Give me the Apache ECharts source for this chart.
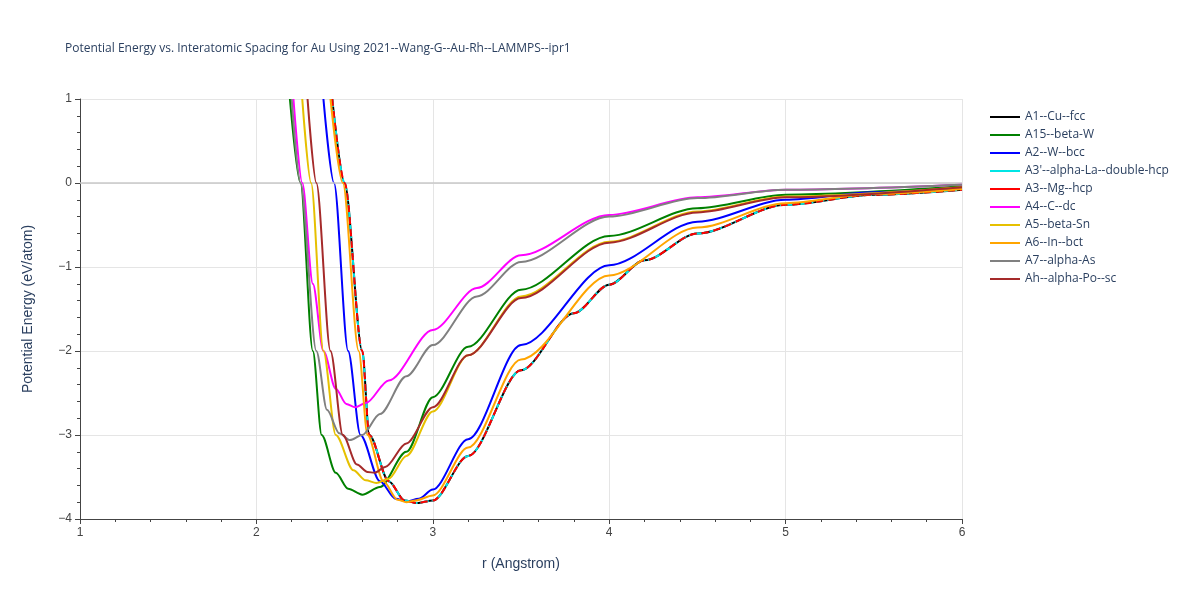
<!DOCTYPE html>
<html>
<head>
<meta charset="utf-8">
<script src="https://cdn.jsdelivr.net/npm/echarts@6/dist/echarts.min.js"></script>
<style>html,body{margin:0;padding:0;background:#fff}#chart{width:1200px;height:600px}</style>
</head>
<body>
<div id="chart"></div>
<script>
// 数据: r (Angstrom) 与能量 (eV/atom)
var names = ["A1--Cu--fcc", "A15--beta-W", "A2--W--bcc", "A3'--alpha-La--double-hcp", "A3--Mg--hcp",
  "A4--C--dc", "A5--beta-Sn", "A6--In--bct", "A7--alpha-As", "Ah--alpha-Po--sc"];
var colors = ["#000000", "#008000", "#0000ff", "#00e5e5", "#ff0000", "#ff00ff", "#e6c000", "#ffa500", "#808080", "#a52a2a"];

var fccR = [2.43, 2.50, 2.60, 2.64, 2.75, 2.84, 2.91, 3.0, 3.2, 3.5, 3.8, 4.0, 4.2, 4.5, 5.0, 5.5, 6.0];
var fccE = [1, 0, -2, -3, -3.55, -3.78, -3.81, -3.78, -3.25, -2.23, -1.55, -1.21, -0.92, -0.6, -0.26, -0.14, -0.08];
var a15R = [2.19, 2.25, 2.32, 2.37, 2.45, 2.52, 2.60, 2.70, 2.85, 3.0, 3.2, 3.5, 4.0, 4.5, 5.0, 6.0];
var a15E = [1, 0, -2, -3, -3.45, -3.64, -3.71, -3.62, -3.2, -2.55, -1.95, -1.27, -0.63, -0.3, -0.14, -0.04];
var bccR = [2.38, 2.44, 2.52, 2.59, 2.70, 2.79, 2.85, 2.92, 3.0, 3.2, 3.5, 4.0, 4.5, 5.0, 5.5, 6.0];
var bccE = [1, 0, -2, -3, -3.55, -3.76, -3.79, -3.76, -3.65, -3.05, -1.93, -0.98, -0.46, -0.2, -0.11, -0.06];
var dcR = [2.21, 2.26, 2.32, 2.38, 2.45, 2.51, 2.56, 2.62, 2.75, 3.0, 3.25, 3.5, 4.0, 4.5, 5.0, 6.0];
var dcE = [1, 0, -1.2, -2, -2.45, -2.63, -2.67, -2.62, -2.35, -1.75, -1.25, -0.86, -0.38, -0.17, -0.08, -0.02];
var snR = [2.26, 2.31, 2.38, 2.45, 2.55, 2.62, 2.68, 2.75, 2.85, 3.0, 3.2, 3.5, 4.0, 4.5, 5.0, 6.0];
var snE = [1, 0, -2, -3, -3.42, -3.54, -3.57, -3.52, -3.25, -2.72, -2.05, -1.35, -0.7, -0.34, -0.16, -0.05];
var inR = [2.42, 2.49, 2.58, 2.63, 2.72, 2.80, 2.85, 2.90, 3.0, 3.2, 3.5, 4.0, 4.5, 5.0, 5.5, 6.0];
var inE = [1, 0, -2, -3, -3.55, -3.77, -3.8, -3.78, -3.72, -3.15, -2.1, -1.1, -0.53, -0.24, -0.13, -0.07];
var asR = [2.20, 2.25, 2.34, 2.40, 2.47, 2.53, 2.60, 2.70, 2.85, 3.0, 3.25, 3.5, 4.0, 4.5, 5.0, 6.0];
var asE = [1, 0, -2, -2.7, -2.98, -3.06, -3.0, -2.75, -2.3, -1.93, -1.35, -0.94, -0.4, -0.18, -0.08, -0.02];
var poR = [2.29, 2.34, 2.42, 2.49, 2.57, 2.63, 2.67, 2.73, 2.85, 3.0, 3.2, 3.5, 4.0, 4.5, 5.0, 6.0];
var poE = [1, 0, -2, -3, -3.35, -3.44, -3.45, -3.38, -3.1, -2.67, -2.05, -1.37, -0.71, -0.35, -0.17, -0.05];

var seriesR = [fccR, a15R, bccR, fccR, fccR, dcR, snR, inR, asR, poR];
var seriesE = [fccE, a15E, bccE, fccE, fccE, dcE, snE, inE, asE, poE];
var lineTypes = ["solid", "solid", "solid", [8, 3, 2, 3], [7, 5], "solid", "solid", "solid", "solid", "solid"];

var myChart = echarts.init(document.getElementById('chart'));
var series = names.map(function (n, i) {
  return {
    name: n,
    type: 'line',
    smooth: 0.3,
    smoothMonotone: 'x',
    showSymbol: false,
    data: seriesR[i].map(function (r, j) { return [r, seriesE[i][j]]; }),
    lineStyle: { color: colors[i], width: 2, type: lineTypes[i] },
    itemStyle: { color: colors[i] },
    z: 2 + i
  };
});

var option = {
  animation: false,
  title: {
    text: 'Potential Energy vs. Interatomic Spacing for Au Using 2021--Wang-G--Au-Rh--LAMMPS--ipr1',
    left: 60, top: 38,
    textStyle: { fontSize: 12, fontWeight: 'normal', color: '#2a3f5f', fontFamily: 'Open Sans, sans-serif' }
  },
  legend: {
    orient: 'vertical', left: 985, top: 106, itemGap: 6, itemWidth: 30, itemHeight: 12,
    icon: 'path://M0,5 L30,5 L30,7 L0,7 Z',
    textStyle: { fontSize: 12, color: '#2a3f5f', fontFamily: 'Open Sans, sans-serif' },
    data: names
  },
  grid: { left: 80, top: 99, width: 882, height: 420 },
  xAxis: {
    type: 'value', min: 1, max: 6, interval: 1,
    name: 'r (Angstrom)', nameLocation: 'middle', nameGap: 38,
    nameTextStyle: { fontSize: 14, color: '#2a3f5f' },
    axisLine: { show: true, onZero: false, lineStyle: { color: '#444' } },
    axisTick: { show: true, length: 5, lineStyle: { color: '#444' } },
    minorTick: { show: true, splitNumber: 5, length: 3 },
    axisLabel: { color: '#444', fontSize: 12 },
    splitLine: { lineStyle: { color: '#e5e5e5' } }
  },
  yAxis: {
    type: 'value', min: -4, max: 1, interval: 1,
    name: 'Potential Energy (eV/atom)', nameLocation: 'middle', nameGap: 45,
    nameTextStyle: { fontSize: 14, color: '#2a3f5f' },
    axisLine: { show: true, onZero: false, lineStyle: { color: '#444' } },
    axisTick: { show: true, length: 5, lineStyle: { color: '#444' } },
    minorTick: { show: true, splitNumber: 5, length: 3 },
    axisLabel: { color: '#444', fontSize: 12, formatter: function (v) { return v < 0 ? '\u2212' + (-v) : v; } },
    splitLine: { lineStyle: { color: '#e5e5e5' } }
  },
  series: series.concat([{
    type: 'line', silent: true, data: [],
    markLine: { symbol: 'none', silent: true, label: { show: false },
      lineStyle: { color: '#c8c8c8', type: 'solid', width: 1.5 }, data: [{ yAxis: 0 }] },
    z: 1
  }])
};
myChart.setOption(option);
</script>
</body>
</html>
